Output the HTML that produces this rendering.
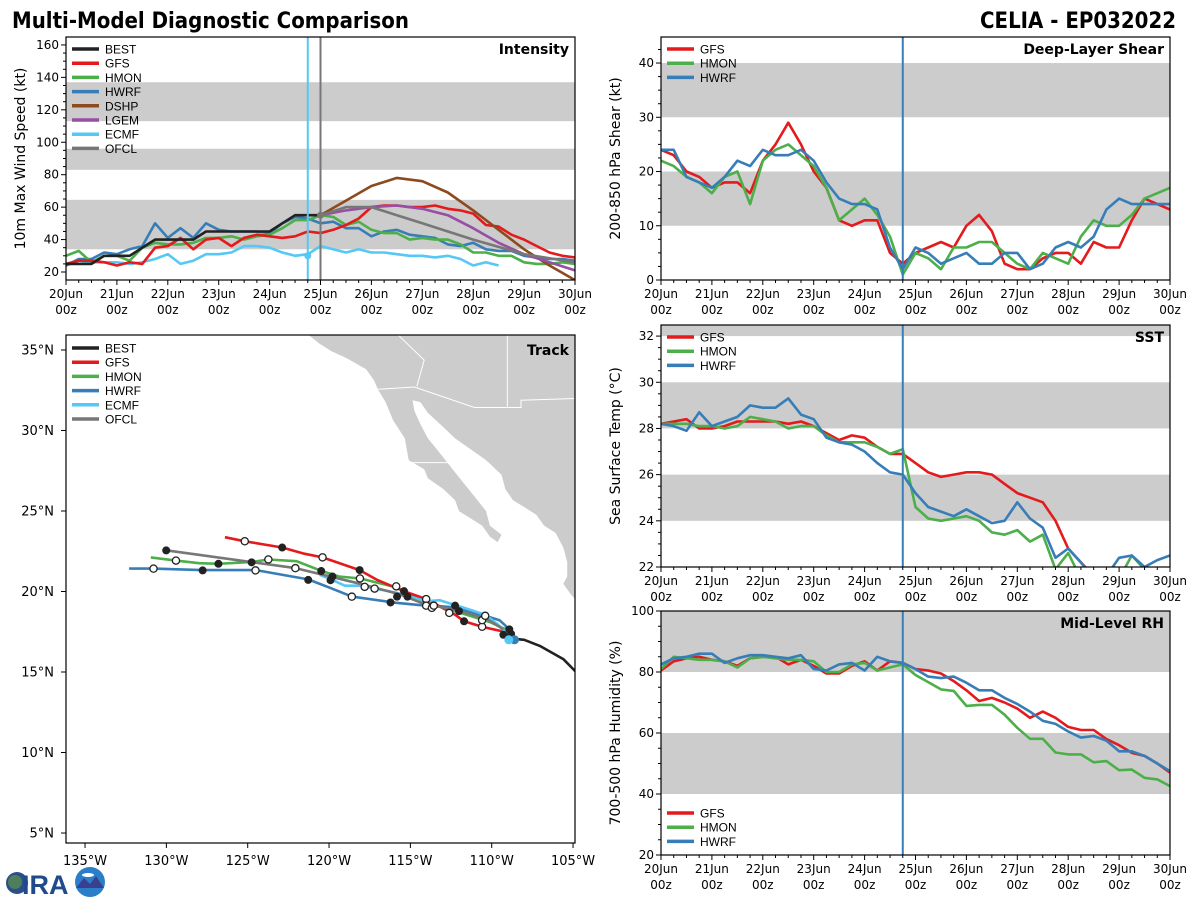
<!DOCTYPE html>
<html><head><meta charset="utf-8">
<style>
body{margin:0;background:#fff;}
svg{display:block;font-family:"DejaVu Sans","Liberation Sans",sans-serif;}
.tk{font-size:12px;fill:#000;}
.ttl{font-family:"DejaVu Sans Condensed","DejaVu Sans",sans-serif;font-weight:bold;font-stretch:condensed;font-size:22px;}
</style></head><body>
<svg id="fig" width="1200" height="900" viewBox="0 0 1200 900">
<text class="ttl" x="12" y="28">Multi-Model Diagnostic Comparison</text>
<text class="ttl" x="1176" y="28" text-anchor="end">CELIA - EP032022</text>
<g id="logo">
<circle cx="17" cy="883" r="11" fill="#2a4f8a"/><circle cx="15" cy="882" r="7" fill="#4f7f5a"/>
<text x="22" y="894" font-family="Liberation Sans,sans-serif" font-weight="bold" font-size="27" fill="#1f4a8c">IRA</text>
<circle cx="90" cy="882" r="15" fill="#2a7fc8"/><path d="M76,888 L84,878 L90,884 L96,876 L104,888 Z" fill="#3a3f8f"/>
<ellipse cx="88" cy="875" rx="6" ry="2" fill="#fff"/>
</g>
</svg>
<script>
// ---------- data ----------
const dayLabels=["20Jun","21Jun","22Jun","23Jun","24Jun","25Jun","26Jun","27Jun","28Jun","29Jun","30Jun"];
// intensity (kt), 6-hourly from 20Jun 00z
const intBEST=[25,25,25,30,30,30,35,40,40,40,40,45,45,45,45,45,45,50,55,55,55];
const intGFS=[25,27,27,26,24,26,25,35,36,41,34,40,41,36,41,43,42,41,42,45,44,46,49,53,60,61,61,60,60,61,59,58,56,49,48,43,40,36,32,30,29];
const intHMON=[30,33,26,30,30,27,35,38,37,37,38,41,41,42,40,42,43,47,52,52,55,54,49,51,46,44,44,40,41,40,40,37,32,32,30,30,26,25,25,26,25];
const intHWRF=[24,28,28,32,31,34,36,50,41,47,41,50,46,45,45,45,44,50,54,53,50,51,47,47,42,45,46,43,42,41,37,36,38,34,33,33,30,29,28,28,27];
const intECMF=[24,27,26,26,26,25,26,28,31,25,27,31,31,32,36,36,35,32,30,31,36,34,32,34,32,32,31,30,30,29,30,28,24,26,24];
const dshpT=[20,22,24,26,28,30,32,34,36,38,40];
const intDSHP=[55,64,73,78,76,69,58,46,34,24,15];
const intLGEM=[55,58,60,61,59,55,47,38,31,26,21];
const ofclT=[20,22,24,26,28,32,36,40];
const intOFCL=[55,60,60,55,50,40,31,26];
// shear (kt)
const shGFS=[24,23,20,19,17,18,18,16,22,25,29,25,20,17,11,10,11,11,5,3,5,6,7,6,10,12,9,3,2,2,4,5,5,3,7,6,6,11,15,14,13];
const shHMON=[22,21,19,18,16,19,20,14,22,24,25,23,21,17,11,13,15,12,8,1,5,4,2,6,6,7,7,5,3,2,5,4,3,8,11,10,10,12,15,16,17];
const shHWRF=[24,24,19,18,17,19,22,21,24,23,23,24,22,18,15,14,14,13,6,2,6,5,3,4,5,3,3,5,5,2,3,6,7,6,8,13,15,14,14,14,14];
// SST (C)
const sstGFS=[28.2,28.3,28.4,28.0,28.0,28.1,28.3,28.3,28.3,28.3,28.2,28.3,28.1,27.8,27.5,27.7,27.6,27.2,26.9,26.9,26.5,26.1,25.9,26.0,26.1,26.1,26.0,25.6,25.2,25.0,24.8,24.0,22.8,22.2,21.6,21.4,21.3,21.2,21.2,21.3,21.3];
const sstHMON=[28.2,28.2,28.2,28.1,28.1,28.0,28.1,28.5,28.4,28.3,28.0,28.1,28.1,27.7,27.4,27.4,27.4,27.2,26.9,27.1,24.6,24.1,24.0,24.1,24.2,24.0,23.5,23.4,23.6,23.1,23.4,21.9,22.6,21.5,21.3,21.2,21.5,22.5,21.9,21.8,21.8];
const sstHWRF=[28.2,28.1,27.9,28.7,28.1,28.3,28.5,29.0,28.9,28.9,29.3,28.6,28.4,27.6,27.4,27.3,27.0,26.5,26.1,26.0,25.2,24.6,24.4,24.2,24.5,24.2,23.9,24.0,24.8,24.1,23.7,22.4,22.8,22.2,21.5,21.6,22.4,22.5,22.0,22.3,22.5];
// RH (%)
const rhGFS=[80.5,83.5,84.5,85,84,83.5,82,84.5,85,85,82.5,84,82,79.5,79.5,82,83.5,80.5,83.5,83,81,80.5,79.5,77,74,70.5,71.5,70,68,65,67,65,62,61,61,58,56,53.5,52.5,50,47];
const rhHMON=[81,85,84.5,84,84,83.5,81.5,84.5,85,84.5,84,84,83.5,80,80,82.5,83,80.5,81.5,82.5,79,76.7,74.3,73.8,68.9,69.2,69.2,66,61.7,58.1,58.1,53.6,53,53,50.4,50.8,47.8,48,45.3,44.8,42.6];
const rhHWRF=[82.5,84.5,85,86,86,83,84.5,85.5,85.5,85,84.5,85.5,81,80.5,82.5,83,80.5,85,83.5,83,81,78.5,78,78.5,76.5,74,74,71.5,69.5,67,64,63,60.5,58.5,59,57.5,54,54,52.5,50,47.5];
// track (lon, lat)
const bestLon=[-104.65,-105.6,-107.0,-108.0,-108.4,-108.9,-108.8];
const bestLat=[14.83,15.8,16.6,17.0,17.04,17.2,17.5];
const gfsLon=[-108.92,-109.4,-110.59,-111.7,-112.25,-114.03,-115.39,-117.0,-118.12,-120.4,-121.52,-122.88,-125.18,-126.4];
const gfsLat=[17.09,17.54,17.81,18.15,18.56,19.53,20.02,20.7,21.33,22.12,22.35,22.73,23.12,23.37];
const hmonLon=[-109.16,-110.1,-112.25,-114.15,-115.82,-118.08,-119.38,-120.45,-122.0,-123.73,-124.73,-126.8,-127.99,-129.41,-130.96];
const hmonLat=[17.65,18.1,18.78,19.35,20.25,20.81,20.93,21.27,21.88,21.99,21.83,21.72,21.76,21.92,22.12];
const hwrfLon=[-108.57,-109.16,-109.52,-110.4,-112.25,-113.56,-114.03,-115.87,-118.6,-119.86,-121.28,-124.49,-127.82,-129.37,-130.79,-132.29];
const hwrfLat=[16.97,17.88,18.22,18.49,19.01,19.12,19.12,19.3,19.68,20.2,20.75,21.33,21.33,21.38,21.42,21.42];
const ecmfLon=[-108.92,-109.4,-110.4,-111.78,-113.2,-114.03,-115.82,-117.24,-118.08,-119.03,-119.86,-120.57];
const ecmfLat=[17.09,17.77,18.56,19.01,19.46,19.39,19.91,20.2,20.36,20.36,20.75,21.04];
const ofclLon=[-109.28,-110.35,-112.37,-114.15,-115.7,-118.08,-122.07,-129.96];
const ofclLat=[17.65,18.33,18.89,19.23,19.84,20.48,21.45,22.55];
const mkFillLon=[-130.01,-127.77,-126.8,-124.76,-122.88,-121.28,-120.48,-119.91,-119.79,-118.12,-116.22,-115.82,-115.39,-115.18,-112.25,-112.01,-111.7,-109.28,-108.92,-108.81];
const mkFillLat=[22.55,21.31,21.72,21.81,22.73,20.72,21.27,20.7,20.93,21.33,19.32,19.68,20.02,19.68,19.12,18.78,18.15,17.31,17.65,17.36];
const mkOpenLon=[-130.79,-129.41,-125.18,-124.52,-123.73,-122.07,-120.4,-118.6,-118.1,-117.81,-117.2,-115.87,-114.03,-114.03,-113.68,-113.56,-112.61,-110.59,-110.59,-110.4];
const mkOpenLat=[21.42,21.92,23.12,21.31,21.99,21.45,22.12,19.68,20.81,20.29,20.18,20.32,19.53,19.12,18.98,19.12,18.67,17.81,18.22,18.49];
const landLon=[-121.28,-120.57,-119.86,-118.91,-117.72,-117.24,-117.0,-116.53,-116.06,-115.34,-115.1,-114.15,-113.92,-112.96,-112.25,-112.01,-111.3,-110.59,-110.11,-109.64,-109.4,-110.11,-110.35,-111.06,-111.78,-112.49,-113.2,-113.92,-114.39,-114.75,-114.87,-114.39,-113.92,-112.96,-112.25,-111.3,-110.35,-109.4,-109.16,-108.69,-107.97,-107.26,-106.78,-106.07,-105.6,-105.36,-105.36,-105.6,-105.12,-104.57,-104.5,-121.5];
const landLat=[35.95,35.38,34.93,34.48,33.8,33.13,32.56,31.77,30.64,29.51,28.16,27.59,27.03,26.35,25.67,24.99,24.54,24.09,23.41,23.07,23.52,24.09,25.0,25.9,26.8,27.7,28.61,29.51,30.41,31.21,31.88,31.77,31.09,30.19,29.51,28.83,28.16,27.25,26.35,25.67,25.22,24.77,24.09,23.64,22.73,21.83,20.93,20.48,19.8,19.23,36.5,36.5];
const borderLon=[[-117.0,-114.75,-111.06,-108.2,-108.2,-104.5],[-115.82,-114.15,-114.6],[-109.04,-109.04],[-115.1,-112.7]];
const borderLat=[[32.56,32.7,31.43,31.43,31.88,32.0],[36,34.37,32.75],[36,31.43],[28.0,28.0]];

const C={BEST:"#222222",GFS:"#e41a1c",HMON:"#4daf4a",HWRF:"#377eb8",DSHP:"#8c4a1e",LGEM:"#984ea3",ECMF:"#55c8f5",OFCL:"#777777"};
// ---------- helpers ----------
const NS="http://www.w3.org/2000/svg";
const fig=document.getElementById('fig');
function mk(tag,attrs,parent){const e=document.createElementNS(NS,tag);for(const k in attrs)e.setAttribute(k,attrs[k]);(parent||fig).appendChild(e);return e;}
let clipId=0;
function panel(p){
  const g=mk('g',{});
  
  
  const sx=t=>p.x0+(t/40)*(p.x1-p.x0);
  const sy=v=>p.y1-(v-p.ymin)/(p.ymax-p.ymin)*(p.y1-p.y0);
  const cid='c'+(clipId++);
  const cp=mk('clipPath',{id:cid},g);mk('rect',{x:p.x0,y:p.y0,width:p.x1-p.x0,height:p.y1-p.y0},cp);
  const inner=mk('g',{'clip-path':'url(#'+cid+')'},g);
  p.bands.forEach(b=>{const r=mk('rect',{x:p.x0,y:sy(Math.min(b[1],p.ymax)),width:p.x1-p.x0,height:sy(b[0])-sy(Math.min(b[1],p.ymax)),fill:'#cccccc'},inner);
    
    });
  return {g,inner,sx,sy,p};
}
function axesTime(P){
  const {g,sx,sy,p}=P;
  mk('rect',{x:p.x0,y:p.y0,width:p.x1-p.x0,height:p.y1-p.y0,fill:'none',stroke:'#000','stroke-width':1.2},g);
  for(let t=0;t<=40;t++){const x=sx(t);mk('line',{x1:x,x2:x,y1:p.y1,y2:p.y1+(t%4==0?5:3),stroke:'#000'},g);}
  dayLabels.forEach((d,i)=>{const x=sx(i*4);
    const t1=mk('text',{x:x,y:p.y1+18,'text-anchor':'middle',class:'tk'},g);t1.textContent=d;
    
    
    const t2=mk('text',{x:x,y:p.y1+34,'text-anchor':'middle',class:'tk'},g);t2.textContent='00z';});
  for(let v=p.ymin0;v<=p.ymax;v+=p.minor){const y=sy(v);mk('line',{x1:p.x0-(Math.abs((v-p.ymin0)%p.major)<1e-6?5:3),x2:p.x0,y1:y,y2:y,stroke:'#000'},g);}
  for(let v=p.ymin0;v<=p.ymax+1e-6;v+=p.major){const t=mk('text',{x:p.x0-7,y:sy(v)+4,'text-anchor':'end',class:'tk'},g);t.textContent=String(v);
    
    }
  const yt=mk('text',{x:0,y:0,transform:`translate(${p.x0-41},${(p.y0+p.y1)/2}) rotate(-90)`,'text-anchor':'middle','font-size':'14'},g);
  yt.textContent=p.ytitle;
  
  
  const lb=mk('text',{x:p.x1-6,y:p.y0+17,'text-anchor':'end','font-weight':'bold','font-size':'14'},g);lb.textContent=p.label;
  
  
}
function series(P,ts,vals,col,name){
  const pts=vals.map((v,i)=>P.sx(ts?ts[i]:i).toFixed(1)+','+P.sy(v).toFixed(1)).join(' ');
  const l=mk('polyline',{points:pts,fill:'none',stroke:col,'stroke-width':2.6,'stroke-linejoin':'round'},P.inner);
  
  
}
function legend(names,x,y){
  names.forEach((n,i)=>{const yy=y+i*14.2;
    const l=mk('line',{x1:x,x2:x+27,y1:yy,y2:yy,stroke:C[n],'stroke-width':3.5});
    
    
    const t=mk('text',{x:x+33,y:yy+4.5,'font-size':'12','font-family':'Liberation Sans,sans-serif'});t.textContent=n;
    
    });
}
function vline(P,t,col){const x=P.sx(t);const l=mk('line',{x1:x,x2:x,y1:P.p.y0,y2:P.p.y1,stroke:col,'stroke-width':2},P.g);
  
  }

// ---------- intensity ----------
const I=panel({name:'intensity-panel',x0:66,x1:575,y0:37,y1:280,ymin:15.07,ymax:164.9,bands:[[34,64.5],[83,96],[113,137]]});
Object.assign(I.p,{ymin0:20,major:20,minor:5,ytitle:'10m Max Wind Speed (kt)',label:'Intensity'});
series(I,null,intECMF,C.ECMF,'ecmf-intensity');
series(I,null,intHWRF,C.HWRF,'hwrf-intensity');
series(I,null,intHMON,C.HMON,'hmon-intensity');
series(I,null,intGFS,C.GFS,'gfs-intensity');
series(I,dshpT,intDSHP,C.DSHP,'dshp-intensity');
series(I,dshpT,intLGEM,C.LGEM,'lgem-intensity');
series(I,ofclT,intOFCL,C.OFCL,'ofcl-intensity');
series(I,null,intBEST,C.BEST,'best-intensity');
vline(I,19,C.ECMF);vline(I,20,'#777');
mk('circle',{cx:I.sx(19),cy:I.sy(30),r:3.5,fill:C.ECMF});
mk('circle',{cx:I.sx(20),cy:I.sy(55),r:3.5,fill:'#777'});
axesTime(I);
legend(["BEST","GFS","HMON","HWRF","DSHP","LGEM","ECMF","OFCL"],72,49);

// ---------- shear ----------
const S=panel({name:'shear-panel',x0:661,x1:1170,y0:37,y1:280,ymin:0,ymax:44.8,bands:[[10,20],[30,40]]});
Object.assign(S.p,{ymin0:0,major:10,minor:2.5,ytitle:'200-850 hPa Shear (kt)',label:'Deep-Layer Shear'});
series(S,null,shGFS,C.GFS,'gfs-shear');series(S,null,shHMON,C.HMON,'hmon-shear');series(S,null,shHWRF,C.HWRF,'hwrf-shear');
vline(S,19,C.HWRF);axesTime(S);legend(["GFS","HMON","HWRF"],667,49);

// ---------- SST ----------
const T=panel({name:'sst-panel',x0:661,x1:1170,y0:325,y1:567,ymin:22,ymax:32.48,bands:[[24,26],[28,30],[32,34]]});
Object.assign(T.p,{ymin0:22,major:2,minor:0.5,ytitle:'Sea Surface Temp (°C)',label:'SST'});
series(T,null,sstGFS,C.GFS,'gfs-sst');series(T,null,sstHMON,C.HMON,'hmon-sst');series(T,null,sstHWRF,C.HWRF,'hwrf-sst');
vline(T,19,C.HWRF);axesTime(T);legend(["GFS","HMON","HWRF"],667,337);

// ---------- RH ----------
const R=panel({name:'rh-panel',x0:661,x1:1170,y0:611,y1:855,ymin:20,ymax:100,bands:[[40,60],[80,100]]});
Object.assign(R.p,{ymin0:20,major:20,minor:5,ytitle:'700-500 hPa Humidity (%)',label:'Mid-Level RH'});
series(R,null,rhGFS,C.GFS,'gfs-rh');series(R,null,rhHMON,C.HMON,'hmon-rh');series(R,null,rhHWRF,C.HWRF,'hwrf-rh');
vline(R,19,C.HWRF);axesTime(R);legend(["GFS","HMON","HWRF"],667,813);

// ---------- track ----------
const M={x0:66,x1:575,y0:335,y1:843,lon0:-136.17,lon1:-104.88,lat0:4.38,lat1:35.93};
const mx=lo=>M.x0+(lo-M.lon0)/(M.lon1-M.lon0)*(M.x1-M.x0);
const my=la=>M.y1-(la-M.lat0)/(M.lat1-M.lat0)*(M.y1-M.y0);
const tg=mk('g',{});


const tcp=mk('clipPath',{id:'tc'},tg);mk('rect',{x:M.x0,y:M.y0,width:M.x1-M.x0,height:M.y1-M.y0},tcp);
const ti=mk('g',{'clip-path':'url(#tc)'},tg);
const land=mk('polygon',{points:landLon.map((v,i)=>mx(v).toFixed(1)+','+my(landLat[i]).toFixed(1)).join(' '),fill:'#cccccc'},ti);


borderLon.forEach((b,j)=>{mk('polyline',{points:b.map((v,i)=>mx(v)+','+my(borderLat[j][i])).join(' '),fill:'none',stroke:'#fff','stroke-width':1},ti);});
function trk(lo,la,col,name){const l=mk('polyline',{points:lo.map((v,i)=>mx(v).toFixed(1)+','+my(la[i]).toFixed(1)).join(' '),fill:'none',stroke:col,'stroke-width':2.6,'stroke-linejoin':'round'},ti);
  
  }
trk(hwrfLon,hwrfLat,C.HWRF,'hwrf-track');
trk(hmonLon,hmonLat,C.HMON,'hmon-track');
trk(gfsLon,gfsLat,C.GFS,'gfs-track');
trk(ecmfLon,ecmfLat,C.ECMF,'ecmf-track');
trk(ofclLon,ofclLat,C.OFCL,'ofcl-track');
trk(bestLon,bestLat,C.BEST,'best-track');
mkFillLon.forEach((v,i)=>{const c=mk('circle',{cx:mx(v),cy:my(mkFillLat[i]),r:4,fill:'#222'},ti);
  
  });
mkOpenLon.forEach((v,i)=>{const c=mk('circle',{cx:mx(v),cy:my(mkOpenLat[i]),r:3.6,fill:'#fff',stroke:'#222','stroke-width':1.3},ti);
  
  });
mk('circle',{cx:mx(-108.6),cy:my(17.0),r:4.5,fill:C.HWRF},ti);
mk('circle',{cx:mx(-108.95),cy:my(17.0),r:4.5,fill:C.ECMF},ti);
mk('rect',{x:M.x0,y:M.y0,width:M.x1-M.x0,height:M.y1-M.y0,fill:'none',stroke:'#000','stroke-width':1.2},tg);
for(let lo=-135;lo<=-105;lo+=5){const x=mx(lo);mk('line',{x1:x,x2:x,y1:M.y1,y2:M.y1+5,stroke:'#000'},tg);
  const t=mk('text',{x:x,y:M.y1+22,'text-anchor':'middle','font-size':'13'},tg);t.textContent=(-lo)+'°W';
  
  }
for(let la=5;la<=35;la+=5){const y=my(la);mk('line',{x1:M.x0-5,x2:M.x0,y1:y,y2:y,stroke:'#000'},tg);
  const t=mk('text',{x:M.x0-12,y:y+4.5,'text-anchor':'end','font-size':'13'},tg);t.textContent=la+'°N';
  
  }
const tl=mk('text',{x:M.x1-6,y:M.y0+20,'text-anchor':'end','font-weight':'bold','font-size':'14'},tg);tl.textContent='Track';


legend(["BEST","GFS","HMON","HWRF","ECMF","OFCL"],72,348);
</script>
</body></html>
